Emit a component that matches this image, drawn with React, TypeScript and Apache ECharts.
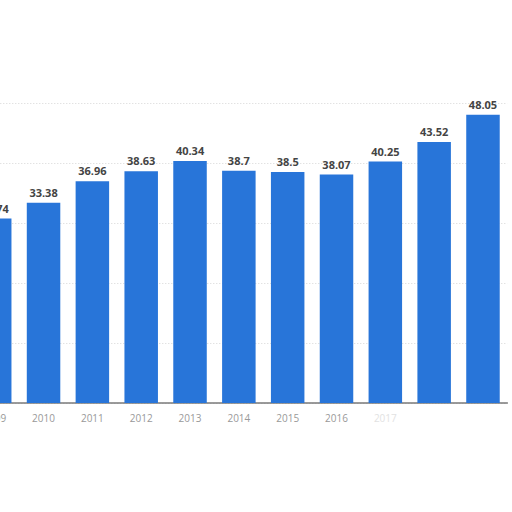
import { useEffect, useRef } from 'react'
import * as echarts from 'echarts'

// 年份与数值
const years = ['2009', '2010', '2011', '2012', '2013', '2014', '2015', '2016', '2017', '2018', '2019']
const values = [30.74, 33.38, 36.96, 38.63, 40.34, 38.7, 38.5, 38.07, 40.25, 43.52, 48.05]
// 图上被遮住的年份标签
const hiddenYears = ['2018', '2019']
const fadedYears = ['2017']

// 图表左侧被裁掉一部分，容器向左偏移
const SHIFT = 30

export default function App() {
    const chartRef = useRef<HTMLDivElement>(null)

    useEffect(() => {
        if (!chartRef.current) return
        const chart = echarts.init(chartRef.current, undefined, { renderer: 'svg' })

        chart.setOption({
            animation: false,
            backgroundColor: '#fff',
            grid: { left: 0.3, right: 4.6, top: 103, bottom: 109, containLabel: false },
            xAxis: {
                type: 'category',
                data: years.map(y => ({
                    value: y,
                    textStyle: hiddenYears.includes(y)
                        ? { color: 'rgba(0,0,0,0)' }
                        : fadedYears.includes(y) ? { color: '#e2e2e2' } : {}
                })),
                axisLine: { lineStyle: { color: '#7a7a7a', width: 1.5 } },
                axisTick: { show: false },
                axisLabel: {
                    color: '#999',
                    fontSize: 10,
                    fontFamily: 'Open Sans',
                    margin: 10
                }
            },
            yAxis: {
                type: 'value',
                min: 0,
                max: 50,
                interval: 10,
                axisLabel: { show: false },
                axisLine: { show: false },
                axisTick: { show: false },
                splitLine: { lineStyle: { color: '#d6d6d6', type: [1, 2], width: 1 } }
            },
            series: [
                {
                    type: 'bar',
                    data: values,
                    barWidth: 33.5,
                    itemStyle: { color: '#2875d9' },
                    label: {
                        show: true,
                        position: 'top',
                        distance: 5,
                        color: '#444',
                        fontSize: 11,
                        fontWeight: 'bold',
                        fontFamily: 'Open Sans'
                    }
                }
            ]
        })

        return () => {
            chart.dispose()
        }
    }, [])

    return (
        <div style={{ position: 'fixed', left: 0, top: 0, width: 512, height: 512, overflow: 'hidden', background: '#fff' }}>
            <div
                ref={chartRef}
                style={{ position: 'absolute', left: -SHIFT, top: 0, width: 512 + SHIFT, height: 512 }}
            />
        </div>
    )
}
